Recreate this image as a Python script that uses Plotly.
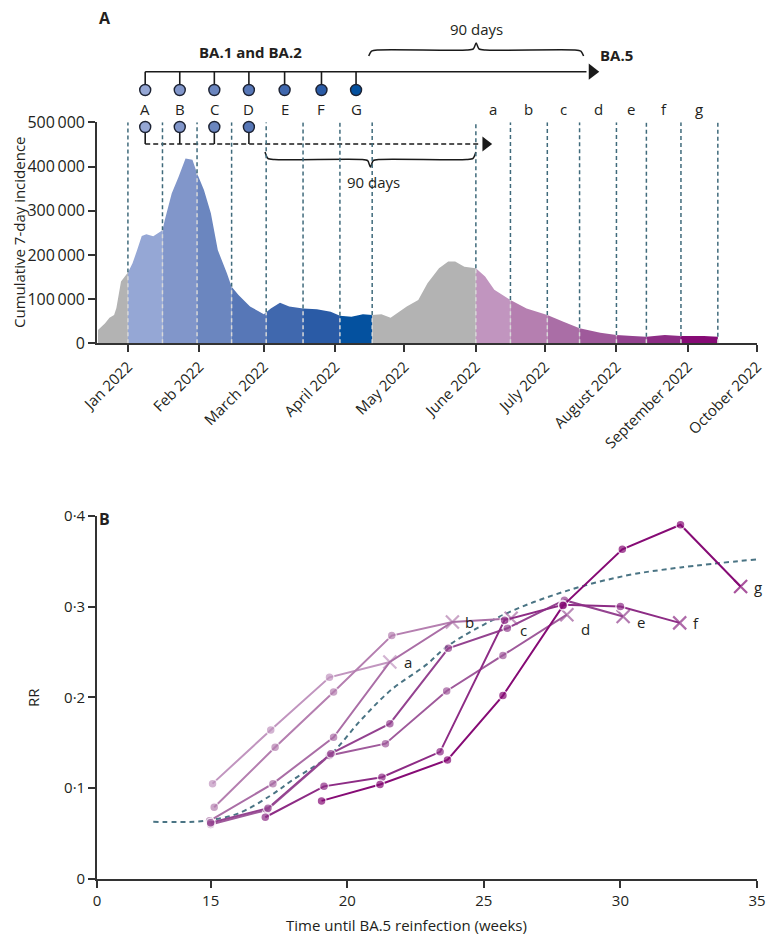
import numpy as np
import pandas as pd
import plotly.graph_objects as go

# page has an 8px body margin: the figure is sized/offset to compensate
OFF = 8
W, H = 774 - 2 * OFF, 937 - OFF
ML, MR = 97 - OFF, 9
PW = W - ML - MR
FONT = "Open Sans"
TXT = "#231f20"

# ---------------- Panel A data ----------------
inc_dates = ["2021-12-19", "2021-12-22", "2021-12-24", "2021-12-26", "2021-12-27", "2021-12-29",
             "2022-01-01", "2022-01-03", "2022-01-05", "2022-01-07", "2022-01-09", "2022-01-12",
             "2022-01-16", "2022-01-17", "2022-01-20", "2022-01-23", "2022-01-26", "2022-01-29",
             "2022-01-31", "2022-02-03", "2022-02-06", "2022-02-09", "2022-02-13", "2022-02-15",
             "2022-02-18", "2022-02-23", "2022-03-01", "2022-03-04", "2022-03-08", "2022-03-12",
             "2022-03-18", "2022-03-24", "2022-03-30", "2022-04-03", "2022-04-08", "2022-04-13",
             "2022-04-17", "2022-04-21", "2022-04-25", "2022-05-02", "2022-05-07", "2022-05-11",
             "2022-05-16", "2022-05-20", "2022-05-23", "2022-05-27", "2022-06-01", "2022-06-05",
             "2022-06-09", "2022-06-16", "2022-06-23", "2022-07-02", "2022-07-09", "2022-07-16",
             "2022-07-25", "2022-08-01", "2022-08-08", "2022-08-14", "2022-08-22", "2022-08-29",
             "2022-09-08", "2022-09-14"]
inc_values = [30000, 45000, 58000, 64000, 80000, 140000,
              160000, 181000, 211000, 243000, 247000, 242000,
              256000, 279000, 339000, 377000, 418000, 415000,
              385000, 347000, 294000, 211000, 158000, 128000,
              109000, 83000, 66000, 79000, 92000, 83000,
              79000, 77000, 71500, 62500, 60000, 66000,
              64000, 66000, 58000, 83000, 98000, 136000,
              170000, 185000, 185000, 173000, 170000, 151000,
              121000, 98000, 79000, 64000, 49000, 34000,
              24000, 19000, 16500, 15000, 19000, 16500,
              16500, 15000]

ba12_bounds = ["2022-01-01", "2022-01-16", "2022-01-31", "2022-02-15", "2022-03-02",
               "2022-03-18", "2022-04-03", "2022-04-17"]
ba5_bounds = ["2022-06-01", "2022-06-16", "2022-07-02", "2022-07-16", "2022-08-01",
              "2022-08-14", "2022-08-29", "2022-09-14"]
ba12_labels = ["A", "B", "C", "D", "E", "F", "G"]
ba5_labels = ["a", "b", "c", "d", "e", "f", "g"]
ba12_colors = ["#95a7d5", "#8196ca", "#6b86bf", "#5777b7", "#4068ae", "#2a5ba6", "#04519f"]
ba5_colors = ["#c195bf", "#b57fb0", "#aa6ea6", "#9f5a9b", "#944390", "#8d2c85", "#860b75"]
gray = "#b3b3b3"

month_ticks = ["2022-01-01", "2022-02-01", "2022-03-01", "2022-04-01", "2022-05-01",
               "2022-06-01", "2022-07-01", "2022-08-01", "2022-09-01", "2022-10-01"]
month_labels = ["Jan 2022", "Feb 2022", "March 2022", "April 2022", "May 2022", "June 2022",
                "July 2022", "August 2022", "September 2022", "October 2022"]
inc_tickvals = [0, 100000, 200000, 300000, 400000, 500000]
inc_ticktext = ["0", "100\u2009000", "200\u2009000", "300\u2009000", "400\u2009000", "500\u2009000"]

# ---------------- Panel B data ----------------
series_names = ["a", "b", "c", "d", "e", "f", "g"]
rr_x = {
    "a": [15.07, 17.2, 19.35, 21.56],
    "b": [15.13, 17.36, 19.5, 21.63, 23.85],
    "c": [14.96, 17.28, 19.5, 21.56, 23.85, 26.0],
    "d": [15.0, 17.06, 19.35, 21.4, 23.64, 25.7, 28.04],
    "e": [15.0, 17.1, 19.4, 21.56, 23.7, 25.86, 27.95, 30.1],
    "f": [17.0, 19.15, 21.27, 23.4, 25.76, 27.9, 30.0, 32.17],
    "g": [19.06, 21.2, 23.67, 25.7, 27.9, 30.07, 32.2, 34.4],
}
rr_y = {
    "a": [0.105, 0.164, 0.222, 0.239],
    "b": [0.079, 0.145, 0.206, 0.268, 0.283],
    "c": [0.064, 0.105, 0.156, 0.239, 0.283, 0.287],
    "d": [0.060, 0.076, 0.136, 0.149, 0.207, 0.246, 0.291],
    "e": [0.062, 0.078, 0.138, 0.171, 0.254, 0.276, 0.307, 0.289],
    "f": [0.068, 0.102, 0.112, 0.140, 0.285, 0.302, 0.300, 0.282],
    "g": [0.086, 0.104, 0.131, 0.202, 0.301, 0.363, 0.390, 0.322],
}
# points of series c that sit underneath the end crosses of a and b (no visible dot)
hidden_pts = {"c": [3, 4]}
fit_x = [12.9, 14.4, 15.0, 16.0, 17.2, 18.0, 19.35, 20.5, 21.6, 22.9, 23.7, 25.8, 27.9, 30.2, 32.2, 35.0]
fit_y = [0.063, 0.063, 0.065, 0.072, 0.092, 0.109, 0.136, 0.175, 0.208, 0.236, 0.257, 0.292, 0.316, 0.334, 0.343, 0.352]
rr_xtick_vals = [10.84, 15, 20, 25, 30, 35]
rr_xtick_text = ["0", "15", "20", "25", "30", "35"]
rr_ytick_vals = [0, 0.1, 0.2, 0.3, 0.4]
rr_ytick_text = ["0", "0\u00b71", "0\u00b72", "0\u00b73", "0\u00b74"]

# label offsets (pixels) for series end labels
lab_shift = {"a": (12, 0), "b": (11, 0), "c": (7, -12), "d": (12, -14),
             "e": (12, -5), "f": (11, 0), "g": (11, 0)}


def px_x(px):
    return (px - OFF - ML) / PW


def px_y(py):
    return (H - (py - OFF)) / H


fig = go.Figure()

# ---------------- Panel A: area ----------------
d_all = pd.to_datetime(inc_dates)
t0 = d_all[0]
t_days = np.array([(d - t0).days for d in d_all], dtype=float)
vals = np.array(inc_values, dtype=float)


def day_of(date):
    return (pd.Timestamp(date) - t0).total_seconds() / 86400.0


def val_at(date):
    return float(np.interp(day_of(date), t_days, vals))


def segment(start, end):
    s, e = day_of(start), day_of(end)
    xs = [pd.Timestamp(start)]
    ys = [val_at(start)]
    for d, td, v in zip(d_all, t_days, vals):
        if s < td < e:
            xs.append(d)
            ys.append(v)
    xs.append(pd.Timestamp(end))
    ys.append(val_at(end))
    return xs, ys


segs = [(inc_dates[0], ba12_bounds[0], gray)]
for i in range(7):
    segs.append((ba12_bounds[i], ba12_bounds[i + 1], ba12_colors[i]))
segs.append((ba12_bounds[-1], ba5_bounds[0], gray))
for i in range(7):
    segs.append((ba5_bounds[i], ba5_bounds[i + 1], ba5_colors[i]))

for s, e, c in segs:
    xs, ys = segment(s, e)
    fig.add_trace(go.Scatter(x=xs, y=ys, mode="none", fill="tozeroy", fillcolor=c,
                             xaxis="x", yaxis="y", hoverinfo="skip", showlegend=False))

for b in ba12_bounds + ba5_bounds:
    v = val_at(b)
    fig.add_shape(type="line", xref="x", yref="y", x0=b, x1=b, y0=v, y1=500000,
                  line=dict(color="#3f6a7b", width=1.5, dash="4px,3px"), layer="above")
    fig.add_shape(type="line", xref="x", yref="y", x0=b, x1=b, y0=0, y1=v,
                  line=dict(color="#d8d8d8", width=1.5, dash="4px,3px"), layer="above")

# ---------------- Schematic (x = dates, y3 = page pixel rows) ----------------
def mid(a, b):
    return pd.Timestamp(a) + (pd.Timestamp(b) - pd.Timestamp(a)) / 2


ba12_mid = [mid(ba12_bounds[i], ba12_bounds[i + 1]) for i in range(7)]
ba5_mid = [mid(ba5_bounds[i], ba5_bounds[i + 1]) for i in range(7)]
DAY = pd.Timedelta(days=1)

arrow_top_end = pd.Timestamp("2022-07-19")
arrow_top_head = pd.Timestamp("2022-07-21 12:00")
arrow_low_end = pd.Timestamp("2022-06-03")
arrow_low_head = pd.Timestamp("2022-06-05 06:00")
brace_top = (pd.Timestamp(ba12_bounds[-1]) - 1.5 * DAY, pd.Timestamp("2022-07-17 18:00"))
brace_low = (pd.Timestamp(ba12_bounds[4]) - 0.5 * DAY, pd.Timestamp(ba5_bounds[0]))

ROW_LINE, ROW_CIRC1, ROW_LAB, ROW_CIRC2, ROW_DASH = 71.7, 90, 108.5, 127, 144
LINEC = "#1a1a1a"

sch = dict(xaxis="x", yaxis="y3", hoverinfo="skip", showlegend=False)
fig.add_trace(go.Scatter(x=[ba12_mid[0], arrow_top_end], y=[ROW_LINE, ROW_LINE], mode="lines",
                         line=dict(color=LINEC, width=1.6), **sch))
fig.add_trace(go.Scatter(x=[arrow_top_head], y=[ROW_LINE], mode="markers",
                         marker=dict(symbol="triangle-right", size=14, color=LINEC, line=dict(width=0)), **sch))
fig.add_trace(go.Scatter(x=[ba12_mid[0], arrow_low_end], y=[ROW_DASH, ROW_DASH], mode="lines",
                         line=dict(color=LINEC, width=1.6, dash="5px,3px"), **sch))
fig.add_trace(go.Scatter(x=[arrow_low_head], y=[ROW_DASH], mode="markers",
                         marker=dict(symbol="triangle-right", size=13, color=LINEC, line=dict(width=0)), **sch))
for i, m in enumerate(ba12_mid):
    fig.add_trace(go.Scatter(x=[m, m], y=[ROW_LINE, ROW_CIRC1 - 5], mode="lines",
                             line=dict(color=LINEC, width=1.6), **sch))
    if i < 4:
        fig.add_trace(go.Scatter(x=[m, m], y=[ROW_CIRC2 + 5, ROW_DASH], mode="lines",
                                 line=dict(color=LINEC, width=1.6), **sch))
fig.add_trace(go.Scatter(x=ba12_mid, y=[ROW_CIRC1] * 7, mode="markers",
                         marker=dict(size=11, color=ba12_colors, line=dict(color="#1c2233", width=1.4)), **sch))
fig.add_trace(go.Scatter(x=ba12_mid[:4], y=[ROW_CIRC2] * 4, mode="markers",
                         marker=dict(size=11, color=ba12_colors[:4], line=dict(color="#1c2233", width=1.4)), **sch))


def brace(x0, x1, y_end, y_line, y_tip):
    xm = x0 + (x1 - x0) / 2
    sgn = 1 if y_tip > y_line else -1
    xs = [x0, x0 + 1.2 * DAY, x0 + 4 * DAY, xm - 4 * DAY, xm - 1.2 * DAY, xm,
          xm + 1.2 * DAY, xm + 4 * DAY, x1 - 4 * DAY, x1 - 1.2 * DAY, x1]
    ys = [y_end, y_line - sgn * 1.2, y_line, y_line, y_line + sgn * 1.2, y_tip,
          y_line + sgn * 1.2, y_line, y_line, y_line - sgn * 1.2, y_end]
    return xs, ys, xm


bx, by, bm_top = brace(brace_top[0], brace_top[1], 56, 50, 43)
fig.add_trace(go.Scatter(x=bx, y=by, mode="lines",
                         line=dict(color=LINEC, width=1.5, shape="spline", smoothing=0.7), **sch))
bx, by, bm_low = brace(brace_low[0], brace_low[1], 152, 159.5, 167)
fig.add_trace(go.Scatter(x=bx, y=by, mode="lines",
                         line=dict(color=LINEC, width=1.5, shape="spline", smoothing=0.7), **sch))

F15 = dict(size=15, color=TXT, family=FONT)
ann = []
for lab, m in zip(ba12_labels, ba12_mid):
    ann.append(dict(x=m, y=ROW_LAB, xref="x", yref="y3", text=lab, showarrow=False, font=F15))
for lab, m in zip(ba5_labels, ba5_mid):
    ann.append(dict(x=m, y=ROW_LAB, xref="x", yref="y3", text=lab, showarrow=False, font=F15))
ann.append(dict(x=bm_top, y=29, xref="x", yref="y3", text="90 days", showarrow=False, font=F15))
ann.append(dict(x=bm_low + 1.5 * DAY, y=182, xref="x", yref="y3", text="90 days", showarrow=False, font=F15))
ann.append(dict(x=mid(ba12_bounds[2], ba12_bounds[5]), y=52, xref="x", yref="y3", text="<b>BA.1 and BA.2</b>",
                showarrow=False, font=F15))
ann.append(dict(x=pd.Timestamp("2022-07-24"), y=55, xref="x", yref="y3", text="<b>BA.5</b>",
                showarrow=False, xanchor="left", font=F15))

# ---------------- Panel B ----------------
fig.add_trace(go.Scatter(x=fit_x, y=fit_y, mode="lines",
                         line=dict(color="#4a7484", width=2, dash="5px,4px", shape="spline"),
                         xaxis="x2", yaxis="y2", hoverinfo="skip", showlegend=False))
for i, nm in enumerate(series_names):
    xs, ys = rr_x[nm], rr_y[nm]
    n = len(xs)
    c = ba5_colors[i]
    sizes = [9] * (n - 1) + [13]
    for k in hidden_pts.get(nm, []):
        sizes[k] = 0
    fig.add_trace(go.Scatter(
        x=xs, y=ys, mode="lines+markers",
        line=dict(color=c, width=2),
        marker=dict(symbol=["circle"] * (n - 1) + ["x-thin"],
                    size=sizes,
                    color=c,
                    line=dict(color=["white"] * (n - 1) + [c], width=[1.5] * (n - 1) + [2.2])),
        xaxis="x2", yaxis="y2", hoverinfo="skip", showlegend=False))
    dx, dy = lab_shift[nm]
    ann.append(dict(x=xs[-1], y=ys[-1], xref="x2", yref="y2", text=nm, showarrow=False,
                    xshift=dx, yshift=dy, xanchor="left", yanchor="middle", font=F15))

# titles and panel letters
ann.append(dict(x=px_x(97), y=px_y(18), xref="paper", yref="paper", text="<b>A</b>", showarrow=False,
                xanchor="left", yanchor="middle", font=dict(size=16, color=TXT, family=FONT)))
ann.append(dict(x=px_x(97), y=px_y(519), xref="paper", yref="paper", text="<b>B</b>", showarrow=False,
                xanchor="left", yanchor="middle", font=dict(size=16, color=TXT, family=FONT)))
ann.append(dict(x=px_x(19), y=px_y(232), xref="paper", yref="paper", text="Cumulative 7-day incidence",
                textangle=-90, showarrow=False, xanchor="center", yanchor="middle", font=F15))
ann.append(dict(x=px_x(33), y=px_y(698), xref="paper", yref="paper", text="RR",
                textangle=-90, showarrow=False, xanchor="center", yanchor="middle", font=F15))
ann.append(dict(x=px_x(406), y=px_y(925), xref="paper", yref="paper",
                text="Time until BA.5 reinfection (weeks)", showarrow=False,
                xanchor="center", yanchor="middle", font=F15))

axis_common = dict(showline=True, linecolor="#333333", linewidth=1.6, ticks="outside", ticklen=7,
                   tickwidth=1.6, tickcolor="#333333", showgrid=False, zeroline=False, automargin=False)

fig.update_layout(
    width=W, height=H,
    margin=dict(l=ML, r=MR, t=0, b=0),
    paper_bgcolor="white", plot_bgcolor="rgba(0,0,0,0)",
    font=dict(family=FONT, size=15, color=TXT),
    showlegend=False,
    xaxis=dict(domain=[0, 1], anchor="y", type="date",
               range=["2021-12-18 14:00", "2022-10-01"],
               tickvals=month_ticks, ticktext=month_labels, tickangle=-45,
               tickfont=dict(size=15, color=TXT, family=FONT), **axis_common),
    yaxis=dict(domain=[px_y(343.3), px_y(122.3)], anchor="x", range=[0, 500000],
               tickvals=inc_tickvals, ticktext=inc_ticktext,
               tickfont=dict(size=16, color=TXT, family=FONT), **axis_common),
    yaxis3=dict(domain=[0, 1], anchor="x", range=[H + OFF, OFF], visible=False, fixedrange=True),
    xaxis2=dict(domain=[0, 1], anchor="y2", range=[10.84, 35],
                tickvals=rr_xtick_vals, ticktext=rr_xtick_text,
                tickfont=dict(size=15, color=TXT, family=FONT), **axis_common),
    yaxis2=dict(domain=[px_y(879), px_y(515.7)], anchor="x2", range=[0, 0.4],
                tickvals=rr_ytick_vals, ticktext=rr_ytick_text,
                tickfont=dict(size=15, color=TXT, family=FONT), **axis_common),
    annotations=ann,
)

fig.write_html("out.html")
